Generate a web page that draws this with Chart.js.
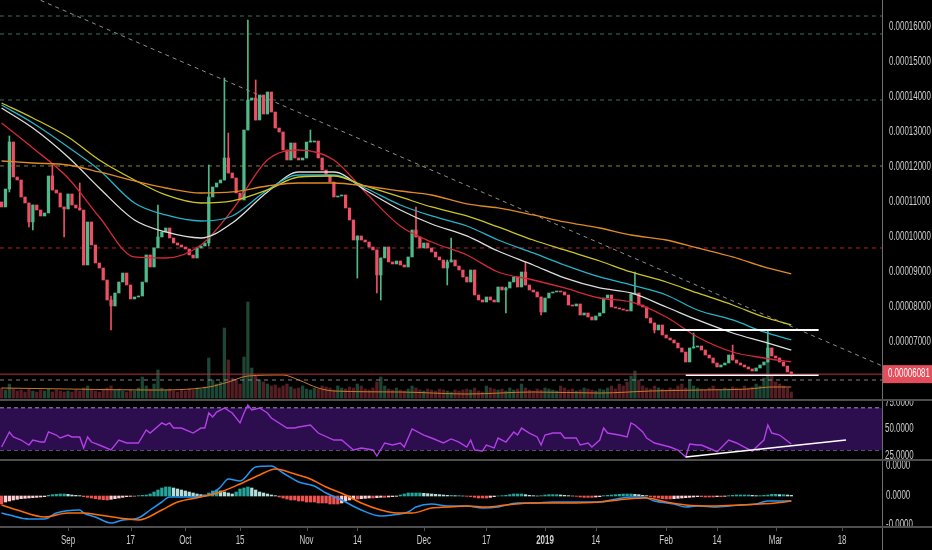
<!DOCTYPE html>
<html>
<head>
<meta charset="utf-8">
<title>Chart</title>
<script src="https://cdn.jsdelivr.net/npm/chart.js@4.4.1/dist/chart.umd.min.js"></script>
<style>
html, body { margin: 0; padding: 0; background: #000; }
#wrap { position: relative; width: 932px; height: 550px; overflow: hidden; background: #000; }
#wrap canvas { position: absolute; left: 0; }
</style>
</head>
<body>
<div id="wrap">
  <canvas id="priceChart" width="932" height="401" style="top:0"></canvas>
  <canvas id="rsiChart" width="932" height="60" style="top:401px"></canvas>
  <canvas id="macdChart" width="932" height="89" style="top:461px"></canvas>
</div>
<script>
// day 0 = 1 Sep 2018, one candle per day, prices in satoshi (1e-8)
const firstDay = -17;
const firstOpen = 11000;

const closes = [
  10857, 11371, 12714, 11714, 11629, 11143, 10971, 10429, 10914, 10771,  // -17
  10600, 10686, 11743, 11343, 11257, 10857, 10800, 11229, 10914, 10829,  // -7
  10771, 9200, 10429, 9771, 9257, 9114, 8771, 8200, 8029, 8400,          // 3
  8714, 8971, 8629, 8229, 8286, 8314, 8714, 9486, 9143, 9686,            // 13
  10000, 10143, 10257, 9971, 9829, 9771, 9714, 9657, 9486, 9400,        // 23
  9686, 9743, 9829, 11143, 11429, 11543, 11629, 12257, 11829, 11686,     // 33
  11257, 11057, 13057, 13914, 13971, 13343, 14057, 13514, 14143, 13571,  // 43
  13114, 13000, 12486, 12200, 12686, 12257, 12200, 12257, 12714, 12714,  // 53
  12743, 12257, 11914, 11771, 11571, 11143, 11171, 11200, 10829, 10486,  // 63
  9914, 10029, 9914, 9857, 9714, 9629, 8914, 9400, 9714, 9286,          // 73
  9229, 9314, 9200, 9143, 9429, 10200, 10000, 9686, 9829, 9686,          // 83
  9571, 9429, 9343, 9114, 9286, 9343, 9171, 9057, 8857, 8714,            // 93
  9057, 8343, 8200, 8143, 8286, 8200, 8143, 8571, 8486, 8543,            // 103
  8714, 8857, 8571, 9000, 8629, 8486, 8429, 8286, 7857, 8257,            // 113
  8400, 8429, 8457, 8429, 8343, 8057, 8029, 8086, 7771, 7829,            // 123
  7714, 7629, 7743, 7829, 8257, 8343, 8000, 7971, 7943, 7914,            // 133
  7886, 8371, 8400, 8057, 8000, 7686, 7543, 7343, 7486, 7200,            // 143
  7114, 7057, 6971, 6829, 6714, 6429, 6829, 6857, 6886, 6771,            // 153
  6629, 6543, 6400, 6286, 6343, 6400, 6629, 6486, 6400, 6343,            // 163
  6286, 6229, 6171, 6257, 6343, 6429, 6829, 6600, 6543, 6429,            // 173
  6314, 6143, 6081                                                       // 183
];

const volumes = [
  10, 8, 14, 9, 7, 8, 6, 9, 7, 6, 8, 7, 9, 6, 8, 7, 6,
  7, 6, 8, 7, 10, 12, 8, 7, 6, 9, 10, 12, 8, 9, 7, 6, 8, 7, 10, 21, 12, 9, 14, 28,
  10, 8, 9, 7, 6, 8, 7, 9, 8, 10, 9, 11,
  40, 18, 14, 16, 70, 38, 20, 18, 14, 41, 96, 30, 22, 18,
  16, 14, 12, 13, 10, 12, 14, 11, 9, 10, 12, 9, 8, 10, 9, 12, 11, 10, 8, 12, 10,
  9, 11, 10, 14, 12, 9, 8, 10, 16, 21, 12, 9, 8, 10, 8, 7, 9, 12, 10, 8, 7, 9, 8, 7, 9, 8, 7, 6, 8,
  7, 8, 9, 8, 10, 7, 6, 12, 10, 9, 8, 9, 7, 10, 8, 9, 14, 10, 8, 7, 9, 8, 10, 9, 8, 7, 12, 10, 8, 9, 7, 8, 10, 9, 8, 7, 9, 8, 10, 12, 9,
  14, 12, 16, 22, 27, 18, 12, 10, 9, 12, 10, 9, 8, 10, 9, 12, 14, 10, 18, 12,
  10, 9, 8, 10, 12, 9, 8, 10, 9, 11, 10, 9, 12, 10, 11, 14, 12, 20, 58, 22, 16, 14, 12, 10, 6
];

const wickDays  = [-15, -10, -9, -4, -1, 3, 11, 23, 36, 40, 41, 46, 48, 62, 74, 79, 80, 89, 97, 98, 112, 117, 121, 145, 150, 160, 170, 179, 185];
const wickHighs = [12886, 10971, 10914, 12057, 10857, 11543, 8314, 10914, 12057, 14543, 12971, 16200, 14486, 13057, 10029, 9629, 9400, 10857, 9343, 9971, 8571, 9286, 8286, 9000, 7543, 7257, 6914, 7343, 6143];
const wickLows  = [11286, 10286, 10200, 11343, 10000, 10771, 7343, 9900, 9743, 11629, 11829, 13057, 13343, 12714, 8829, 8400, 8200, 10000, 8629, 9286, 7829, 8629, 7771, 8371, 7257, 6829, 6486, 6429, 6029];

const emaDays   = [-17, -9, 0, 8, 17, 25, 34, 42, 51, 59, 68, 76, 85, 93, 102, 110, 119, 127, 136, 144, 153, 161, 170, 178, 185];
const emaRed    = [13257, 12543, 11686, 10571, 9429, 9400, 9771, 10771, 12200, 12486, 12200, 11286, 10314, 9857, 9486, 9000, 8771, 8543, 8257, 8143, 7714, 7143, 6714, 6543, 6429];
const emaWhite  = [13686, 13114, 12286, 11400, 10486, 10143, 9971, 10400, 11286, 11857, 11857, 11343, 10771, 10371, 10029, 9600, 9200, 8829, 8543, 8400, 8000, 7629, 7257, 7000, 6771];
const emaCyan   = [13771, 13257, 12571, 11914, 10971, 10629, 10457, 10600, 11343, 11771, 11771, 11400, 10914, 10600, 10314, 9914, 9543, 9200, 8857, 8629, 8343, 7914, 7629, 7286, 7057];
const emaYellow = [13829, 13400, 12857, 12200, 11629, 11200, 10971, 11029, 11343, 11714, 11743, 11457, 11143, 10857, 10600, 10286, 9914, 9629, 9314, 9000, 8714, 8400, 8057, 7714, 7486];
const emaOrange = [12171, 12114, 12057, 11857, 11600, 11400, 11257, 11286, 11457, 11543, 11543, 11457, 11314, 11200, 10943, 10829, 10629, 10429, 10257, 10057, 9914, 9686, 9429, 9143, 8943];

const volMaDays = [-17, 0, 21, 36, 41, 46, 55, 59, 64, 68, 85, 102, 119, 136, 149, 162, 174, 180, 185];
const volMa     = [10, 9, 8, 11, 16, 22, 23, 18, 10, 7, 6, 4, 6, 5, 7, 8, 9, 11, 11];

const levelPrices = [16314, 15800, 13914, 12029, 9686, 5914];
const trendDays = [-7, 208];
const trendPrices = [16761, 6330];
const boxTopDays = [154, 192];
const boxTopPrice = 7343;
const boxBottomDays = [158, 192];
const boxBottomPrice = 6057;
const priceTicks = [16000, 15000, 14000, 13000, 12000, 11000, 10000, 9000, 8000, 7000];

const rsiDays = [-17, -15, -14, -12, -10, -9, -7, -6, -5, -3, -2, 0, 1, 3, 4, 5, 6, 8, 11, 13, 15, 18, 20, 21, 24, 25, 26, 27, 29, 32,
  34, 35, 36, 37, 38, 40, 42, 44, 45, 46, 47, 49, 51, 52, 56, 58, 59, 62, 64, 68, 70, 73, 75, 78, 79, 81, 83, 85, 86, 88,
  91, 93, 96, 98, 100, 102, 103, 104, 106, 107, 109, 110, 112, 114, 115, 116, 118, 120, 121, 122, 124, 126, 127, 130, 131, 133, 134, 136, 137, 138,
  141, 143, 144, 145, 147, 148, 150, 152, 154, 156, 158, 159, 161, 162, 165, 166, 169, 171, 173, 175, 178, 179, 180, 182, 183, 185];
const rsiValues = [33.0, 47.2, 42.5, 39.6, 34.9, 39.6, 37.7, 37.7, 47.2, 44.3, 41.5, 44.3, 42.5, 42.5, 32.1, 42.5, 37.7, 34.9, 30.2, 39.6, 36.8, 36.8, 49.1, 46.2, 55.7, 53.8, 55.7, 50.9, 50.9, 46.2,
  50.9, 50.9, 65.1, 61.3, 66.0, 69.8, 65.1, 55.7, 65.1, 72.6, 67.9, 69.8, 65.1, 60.4, 50.9, 50.9, 51.9, 53.8, 46.2, 39.6, 39.6, 30.2, 32.1, 30.2, 24.5, 36.8, 34.9, 36.8, 33.0, 50.0,
  44.3, 41.5, 36.8, 40.6, 37.7, 33.0, 39.6, 30.2, 29.2, 34.9, 32.1, 41.5, 37.7, 47.2, 44.3, 50.9, 46.2, 42.5, 34.9, 44.3, 46.2, 46.2, 41.5, 41.5, 34.9, 36.8, 33.0, 39.6, 50.9, 46.2,
  44.3, 42.5, 55.7, 53.8, 47.2, 41.5, 36.8, 34.9, 33.0, 30.2, 23.6, 35.8, 34.9, 34.9, 30.2, 28.3, 39.6, 36.8, 33.0, 29.2, 39.6, 53.8, 46.2, 44.3, 41.5, 35.8];
const rsiBand = [30, 70];
const rsiTicks = [75, 50, 25];
const rsiTrendDays = [158, 199];
const rsiTrendValues = [23.6, 39.6];

const macdDays   = [-17, -15, -10, -6, -3, 3, 4, 7, 11, 14, 18, 21, 24, 26, 31, 36, 39, 41, 44, 48, 52, 55, 59, 63, 66, 70, 75, 80, 83, 87,
  89, 93, 97, 102, 106, 110, 115, 119, 124, 130, 136, 139, 144, 147, 150, 155, 158, 161, 166, 172, 176, 179, 183, 185];
const macdValues = [-510, -570, -690, -690, -510, -420, -510, -630, -810, -720, -660, -420, -180, -30, -30, 30, 270, 510, 450, 870, 900, 690, 420, 300, 90, -120, -420, -600, -570, -480,
  -330, -240, -300, -300, -360, -330, -210, -210, -180, -180, -180, -120, -30, -30, -150, -240, -330, -300, -330, -270, -240, -150, -150, -150];
const signalDays   = [-17, -13, -6, 0, 4, 8, 13, 18, 24, 28, 34, 39, 44, 49, 53, 58, 62, 66, 71, 75, 80, 84, 88, 93, 97, 102, 107, 112, 119, 127,
  136, 143, 148, 153, 158, 165, 172, 177, 181, 185];
const signalValues = [-270, -420, -630, -510, -510, -570, -660, -720, -420, -180, -30, 120, 360, 630, 810, 660, 510, 270, 30, -210, -420, -510, -510, -360, -330, -300, -330, -270, -210, -210,
  -180, -90, -60, -180, -270, -300, -270, -240, -210, -150];
const histValues = [
  -240, -180, -150, -120, -100, -80, -70, -60, -50, -40, -30, -20,
  20, 40, 50, 60, 60, 50, 30, 20,
  10, -20, -40, -60, -80, -100, -110, -120, -100, -80, -60, -40, -20, -10, -10,
  10, 20, 30, 60,
  120, 180, 240, 270, 270, 240,
  210, 180, 150, 120, 90, 60, 40, 30,
  90, 150, 180, 150, 120, 90, 60,
  120, 210, 240, 270, 240, 180, 120,
  90, 60, 30, 10,
  -30, -60, -90, -120, -120, -150, -150, -180, -180, -180, -210, -210, -210, -240, -240, -240, -210, -150, -120, -90,
  -90, -80, -70, -60, -60, -50, -40, -40, -30, -20, -10,
  30, 60, 90, 90, 90, 90, 80, 70, 60, 50, 40, 30, 20,
  20, 10, 10, 0, -10, -20, -40, -60, -60, -60, -40, -20,
  0, 10, 20, 40, 60, 60, 60, 40, 20,
  10, 0, 10,
  30, 40, 40, 40, 30, 20,
  10, 0, -10, -30, -40, -40, -40, -30, -20,
  10, 20, 30, 40, 50, 60, 60, 60, 50, 40, 20, 10,
  -20, -40, -60, -80, -90, -90, -80, -70, -60, -50, -40, -30,
  -20, -20, -30, -30, -30, -20, -20, -10,
  10, 20, 30, 30, 30, 30, 20, 10,
  10, 20, 30, 50, 50, 40, 40, 30, 20
];
const macdTicks = [900, 0, -870];

const timeTickDays = [0, 16, 30, 44, 61, 74, 91, 107, 122, 135, 153, 166, 181, 198];
const timeTickLabels = ['Sep', '17', 'Oct', '15', 'Nov', '14', 'Dec', '17', '2019', '14', 'Feb', '14', 'Mar', '18'];

// ---------- styles ----------
const X_MIN = -17.4, X_MAX = 208.2;
const UP = '#4fb98a', DOWN = '#ec5064';
const AXIS_TEXT = '#cdcdcd';
const AXIS_FONT = '12px "Liberation Sans", Arial, sans-serif';
const SQUEEZE = 0.66;
const SEPARATOR = '#4e4e4e';
const AXIS_LINE = '#6e6e6e';
const levelColors = ['rgba(60,150,115,0.8)', 'rgba(60,150,115,0.8)', 'rgba(60,150,115,0.8)', 'rgba(150,155,70,0.85)', 'rgba(190,45,60,0.85)', 'rgba(160,160,160,0.8)'];

const days = closes.map((c, i) => firstDay + i);
const opens = closes.map((c, i) => i === 0 ? firstOpen : closes[i - 1]);
const isUp = closes.map((c, i) => c >= opens[i]);
const lastClose = closes[closes.length - 1];

function pts(xs, ys) { return xs.map((x, i) => ({ x: x, y: ys[i] })); }

function lineSet(data, color, extra) {
  return Object.assign({
    type: 'line', data: data, borderColor: color, borderWidth: 1,
    pointRadius: 0, tension: 0, fill: false
  }, extra || {});
}

function xScale() {
  return { type: 'linear', min: X_MIN, max: X_MAX, display: false, offset: false };
}

function baseOptions(scales, padding, plugin) {
  return {
    responsive: false, animation: false, devicePixelRatio: 1, events: [],
    layout: { padding: padding },
    plugins: { legend: { display: false }, tooltip: { enabled: false } },
    scales: scales
  };
}

function drawText(ctx, text, x, y, align) {
  ctx.save();
  ctx.translate(x, y);
  ctx.scale(SQUEEZE, 1);
  ctx.textAlign = align || 'left';
  ctx.textBaseline = 'middle';
  ctx.fillText(text, 0, 0);
  ctx.restore();
}

// ---------- price pane ----------
const pricePane = {
  id: 'pricePane',
  afterDraw(chart) {
    const ctx = chart.ctx, y = chart.scales.y;
    ctx.save();
    ctx.font = AXIS_FONT;
    ctx.fillStyle = AXIS_TEXT;
    priceTicks.forEach(v => drawText(ctx, (v / 1e8).toFixed(8), 889, y.getPixelForValue(v)));
    const py = y.getPixelForValue(lastClose);
    ctx.fillStyle = '#e44d5b';
    ctx.fillRect(883, py - 9, 49, 18);
    ctx.fillStyle = '#ffffff';
    drawText(ctx, (lastClose / 1e8).toFixed(8), 888, py);
    ctx.fillStyle = AXIS_LINE;
    ctx.fillRect(882, 0, 1, chart.height);
    ctx.fillStyle = SEPARATOR;
    ctx.fillRect(0, chart.height - 2, chart.width, 2);
    ctx.restore();
  }
};

const priceDatasets = [
  lineSet(pts([X_MIN, X_MAX], [lastClose, lastClose]), '#b8303f', { order: 0 }),
  lineSet(pts(boxTopDays, [boxTopPrice, boxTopPrice]), '#ffffff', { borderWidth: 2, order: 0 }),
  lineSet(pts(boxBottomDays, [boxBottomPrice, boxBottomPrice]), '#ffffff', { borderWidth: 2, order: 0 }),
  lineSet(pts(emaDays, emaOrange), '#e08a24', { borderWidth: 1.3, cubicInterpolationMode: 'monotone', order: 1 }),
  lineSet(pts(emaDays, emaYellow), '#c9c625', { borderWidth: 1.3, cubicInterpolationMode: 'monotone', order: 1 }),
  lineSet(pts(emaDays, emaCyan), '#25b4c8', { borderWidth: 1.3, cubicInterpolationMode: 'monotone', order: 1 }),
  lineSet(pts(emaDays, emaWhite), '#dedede', { borderWidth: 1.3, cubicInterpolationMode: 'monotone', order: 1 }),
  lineSet(pts(emaDays, emaRed), '#d42a36', { borderWidth: 1.3, cubicInterpolationMode: 'monotone', order: 1 }),
  {
    type: 'bar', yAxisID: 'y', order: 2, grouped: false, barThickness: 2.6, minBarLength: 1,
    data: days.map((d, i) => ({ x: d, y: [opens[i], closes[i]] })),
    backgroundColor: isUp.map(u => u ? UP : DOWN)
  },
  {
    type: 'bar', yAxisID: 'y', order: 3, grouped: false, barThickness: 1,
    data: wickDays.map((d, i) => ({ x: d, y: [wickLows[i], wickHighs[i]] })),
    backgroundColor: wickDays.map(d => isUp[d - firstDay] ? UP : DOWN)
  },
  lineSet(pts(trendDays, trendPrices), 'rgba(190,190,190,0.75)', { borderDash: [4, 4], order: 4 })
];
levelPrices.forEach((p, i) => {
  priceDatasets.push(lineSet(pts([X_MIN, X_MAX], [p, p]), levelColors[i], { borderDash: [4, 4], order: 4 }));
});
priceDatasets.push(lineSet(pts(volMaDays, volMa), '#c97a2c', { yAxisID: 'yv', cubicInterpolationMode: 'monotone', order: 5 }));
priceDatasets.push({
  type: 'bar', yAxisID: 'yv', order: 6, grouped: false, barThickness: 2.6,
  data: days.map((d, i) => ({ x: d, y: volumes[i] })),
  backgroundColor: isUp.map(u => u ? 'rgba(80,185,138,0.38)' : 'rgba(236,80,100,0.36)')
});

new Chart(document.getElementById('priceChart'), {
  type: 'line',
  data: { datasets: priceDatasets },
  options: baseOptions({
    x: xScale(),
    y: { type: 'linear', min: 5314, max: 16771, display: false },
    yv: { type: 'linear', min: -3, max: 398, display: false }
  }, { left: 0, right: 50, top: 0, bottom: 0 }),
  plugins: [pricePane]
});

// ---------- RSI pane ----------
const rsiPane = {
  id: 'rsiPane',
  afterDraw(chart) {
    const ctx = chart.ctx, y = chart.scales.y;
    ctx.save();
    ctx.font = AXIS_FONT;
    ctx.fillStyle = AXIS_TEXT;
    rsiTicks.forEach(v => drawText(ctx, v.toFixed(4), 885, y.getPixelForValue(v)));
    ctx.fillStyle = AXIS_LINE;
    ctx.fillRect(882, 0, 1, chart.height);
    ctx.fillStyle = SEPARATOR;
    ctx.fillRect(0, chart.height - 2, chart.width, 2);
    ctx.restore();
  }
};

new Chart(document.getElementById('rsiChart'), {
  type: 'line',
  data: {
    datasets: [
      lineSet(pts([X_MIN, X_MAX], [rsiBand[1], rsiBand[1]]), 'rgba(200,185,225,0.8)', { borderDash: [4, 3], fill: '+1', backgroundColor: '#2c0d4e', order: 3 }),
      lineSet(pts([X_MIN, X_MAX], [rsiBand[0], rsiBand[0]]), 'rgba(200,185,225,0.8)', { borderDash: [4, 3], order: 3 }),
      lineSet(pts(rsiDays, rsiValues), '#b33fe6', { borderWidth: 1.4, order: 1 }),
      lineSet(pts(rsiTrendDays, rsiTrendValues), '#ffffff', { borderWidth: 1.6, order: 0 })
    ]
  },
  options: baseOptions({
    x: xScale(),
    y: { type: 'linear', min: 19.81, max: 76.42, display: false }
  }, { left: 0, right: 50, top: 0, bottom: 0 }),
  plugins: [rsiPane]
});

// ---------- MACD pane + time axis ----------
const histColors = histValues.map((v, i) => {
  const prev = i > 0 ? histValues[i - 1] : 0;
  if (v >= 0) return v >= prev ? '#26a69a' : '#b2dfdb';
  return v <= prev ? '#ef5350' : '#ffcdd2';
});

const macdPane = {
  id: 'macdPane',
  afterDraw(chart) {
    const ctx = chart.ctx, y = chart.scales.y, x = chart.scales.x, area = chart.chartArea;
    ctx.save();
    ctx.font = AXIS_FONT;
    ctx.fillStyle = AXIS_TEXT;
    ctx.save();
    ctx.beginPath();
    ctx.rect(area.right, 0, chart.width - area.right, area.bottom);
    ctx.clip();
    macdTicks.forEach(v => drawText(ctx, (v / 1e8).toFixed(4), 886, y.getPixelForValue(v)));
    ctx.restore();
    ctx.fillStyle = AXIS_LINE;
    ctx.fillRect(882, 0, 1, chart.height);
    ctx.fillStyle = SEPARATOR;
    ctx.fillRect(0, area.bottom - 1, chart.width, 2);
    timeTickDays.forEach((d, i) => {
      const px = x.getPixelForValue(d);
      ctx.fillStyle = SEPARATOR;
      ctx.fillRect(Math.round(px), area.bottom + 1, 1, 3);
      ctx.fillStyle = AXIS_TEXT;
      ctx.font = (timeTickLabels[i] === '2019' ? 'bold ' : '') + AXIS_FONT;
      drawText(ctx, timeTickLabels[i], px, area.bottom + 13.5, 'center');
    });
    ctx.restore();
  }
};

new Chart(document.getElementById('macdChart'), {
  type: 'line',
  data: {
    datasets: [
      {
        type: 'bar', order: 3, grouped: false, barThickness: 2.6,
        data: days.map((d, i) => ({ x: d, y: histValues[i] })),
        backgroundColor: histColors
      },
      lineSet(pts(signalDays, signalValues), '#ff6d0a', { borderWidth: 1.5, cubicInterpolationMode: 'monotone', order: 1 }),
      lineSet(pts(macdDays, macdValues), '#2196f3', { borderWidth: 1.5, cubicInterpolationMode: 'monotone', order: 2 })
    ]
  },
  options: baseOptions({
    x: xScale(),
    y: { type: 'linear', min: -930, max: 1050, display: false }
  }, { left: 0, right: 50, top: 0, bottom: 23 }),
  plugins: [macdPane]
});
</script>
</body>
</html>
